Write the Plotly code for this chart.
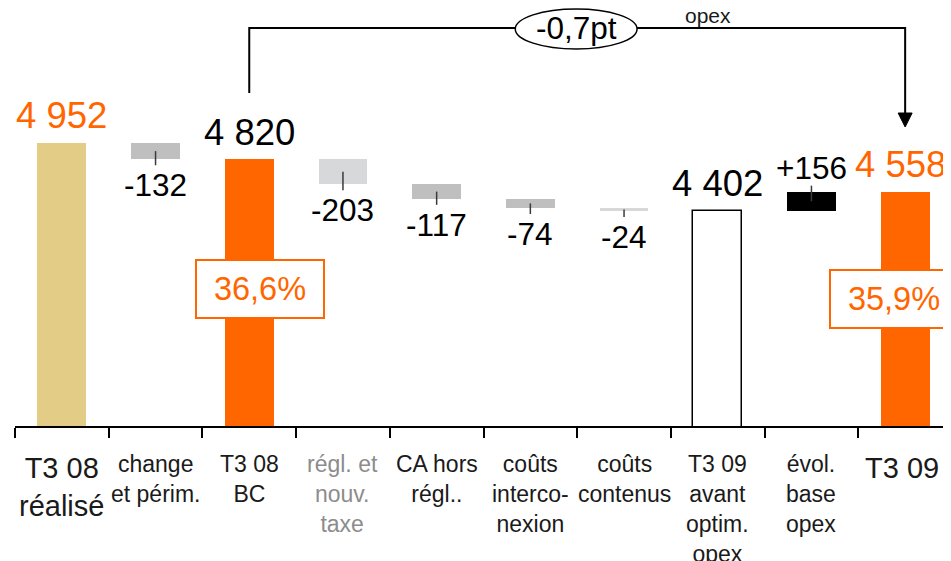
import plotly.graph_objects as go

# categories (bottom labels) and waterfall values
labels = ["T3 08<br>réalisé", "change<br>et périm.", "T3 08<br>BC", "régl. et<br>nouv.<br>taxe",
          "CA hors<br>régl..", "coûts<br>interco-<br>nexion", "coûts<br>contenus",
          "T3 09<br>avant<br>optim.<br>opex", "évol.<br>base<br>opex", "T3 09"]
kinds = ["total", "delta", "total", "delta", "delta", "delta", "delta", "total", "delta", "total"]
values = [4952, -132, 4820, -203, -117, -74, -24, 4402, 156, 4558]
value_text = ["4 952", "-132", "4 820", "-203", "-117", "-74", "-24", "4 402", "+156", "4 558"]
margins = {2: "36,6%", 9: "35,9%"}
gap_label = "-0,7pt"

bar_colors = ["#E3CC85", "#BFBFBF", "#FF6600", "#D7D8DA", "#BFBFBF",
              "#BFBFBF", "#D7D8DA", "#FFFFFF", "#000000", "#FF6600"]
orange = "#FF6600"
font_family = "Liberation Sans, Arial, Helvetica, sans-serif"

y_range = [2662, 6044]
plot_h = 418
k = plot_h / (y_range[1] - y_range[0])  # px per unit


def py(ys):
    # page pixel (page has 8px body margin) -> paper fraction
    return 1 - (ys - 8) / plot_h


x = list(range(len(values)))
bases, heights = [], []
running = 0
for kind, v in zip(kinds, values):
    if kind == "total":
        bases.append(0)
        heights.append(v)
        running = v
    else:
        bases.append(running)
        heights.append(v)
        running += v

fig = go.Figure()
fig.add_trace(go.Bar(
    x=x, y=heights, base=bases, width=0.52,
    marker=dict(color=bar_colors,
                line=dict(color="#000000", width=[0, 0, 0, 0, 0, 0, 0, 1.5, 0, 0])),
    hoverinfo="skip",
))

# small leader ticks on delta bars
lx, ly = [], []
off = 6 / k
for i, kind in enumerate(kinds):
    if kind != "delta":
        continue
    mid = bases[i] + heights[i] / 2
    end = (bases[i] + heights[i] - off) if heights[i] < 0 else (bases[i] + heights[i] + off)
    lx += [i, i, None]
    ly += [mid, end, None]
fig.add_trace(go.Scatter(x=lx, y=ly, mode="lines", line=dict(color="#3A3A3A", width=1.5),
                         hoverinfo="skip"))

# value labels
for i, kind in enumerate(kinds):
    top = max(bases[i], bases[i] + heights[i])
    bottom = min(bases[i], bases[i] + heights[i])
    color = orange if i in (0, 9) else "#000000"
    if kind == "total":
        fig.add_annotation(x=i, y=top, text=value_text[i], showarrow=False, yanchor="middle",
                           yshift=27, xshift=-5 if i == 9 else 0,
                           font=dict(size=36.5, color=color))
    elif heights[i] < 0:
        fig.add_annotation(x=i, y=bottom, text=value_text[i], showarrow=False, yanchor="middle",
                           yshift=-26, font=dict(size=31.5, color=color))
    else:
        fig.add_annotation(x=i, y=top, text=value_text[i], showarrow=False, yanchor="middle",
                           yshift=24, font=dict(size=31.5, color=color))

# category labels under the axis
for i, lab in enumerate(labels):
    big = i in (0, 9)
    fig.add_annotation(x=i, y=0, yref="paper", text=lab, showarrow=False, yanchor="top",
                       yshift=-23 if not big else -24, xshift=-3 if i == 9 else 0,
                       font=dict(size=29 if big else 23,
                                 color="#8C8C8C" if i == 3 else "#1A1A1A"))

# margin boxes
for i, txt in margins.items():
    dx = 11 if i == 2 else -11
    ypx = 289 if i == 2 else 299
    fig.add_annotation(x=i, y=py(ypx), yref="paper", text=txt, showarrow=False,
                       xanchor="center", yanchor="middle",
                       xshift=dx, width=126, height=56, borderpad=0, borderwidth=2,
                       bordercolor=orange, bgcolor="#FFFFFF",
                       font=dict(size=32.5, color=orange))

# bracket with arrow
y_top = py(28)
y_start = py(93)
y_head = py(113)
y_tip = py(127)
fig.add_shape(type="path", xref="x", yref="paper",
              path=f"M 2 {y_start} L 2 {y_top} L 9 {y_top} L 9 {y_head}",
              line=dict(color="#000000", width=2))
hw = 7 / 93.7
fig.add_shape(type="path", xref="x", yref="paper",
              path=f"M {9 - hw} {y_head} L {9 + hw} {y_head} L 9 {y_tip} Z",
              fillcolor="#000000", line=dict(color="#000000", width=1))
fig.add_shape(type="circle", xref="x", yref="paper",
              x0=5.489 - 0.65, x1=5.489 + 0.65, y0=py(49), y1=py(9),
              fillcolor="#FFFFFF", line=dict(color="#000000", width=1.5))
fig.add_annotation(x=5.489, y=y_top, yref="paper", text=gap_label, showarrow=False,
                   yanchor="middle", font=dict(size=31.5, color="#000000"))
fig.add_annotation(x=6.898, y=py(8), yref="paper", text="opex", showarrow=False,
                   yanchor="top", yshift=6, font=dict(size=21, color="#1A1A1A"))

fig.update_layout(
    width=951, height=553,
    margin=dict(l=7, r=7, t=0, b=135),
    paper_bgcolor="#FFFFFF", plot_bgcolor="#FFFFFF",
    showlegend=False, bargap=0,
    font=dict(family=font_family),
    xaxis=dict(
        type="linear", range=[-0.5, 9.5], showgrid=False, zeroline=False,
        showline=True, linecolor="#000000", linewidth=2,
        tickvals=[i - 0.5 for i in range(11)], ticks="outside", ticklen=10,
        tickwidth=2, tickcolor="#000000", showticklabels=False,
    ),
    yaxis=dict(range=y_range, visible=False, showgrid=False, zeroline=False),
)

fig.write_html("out.html")
